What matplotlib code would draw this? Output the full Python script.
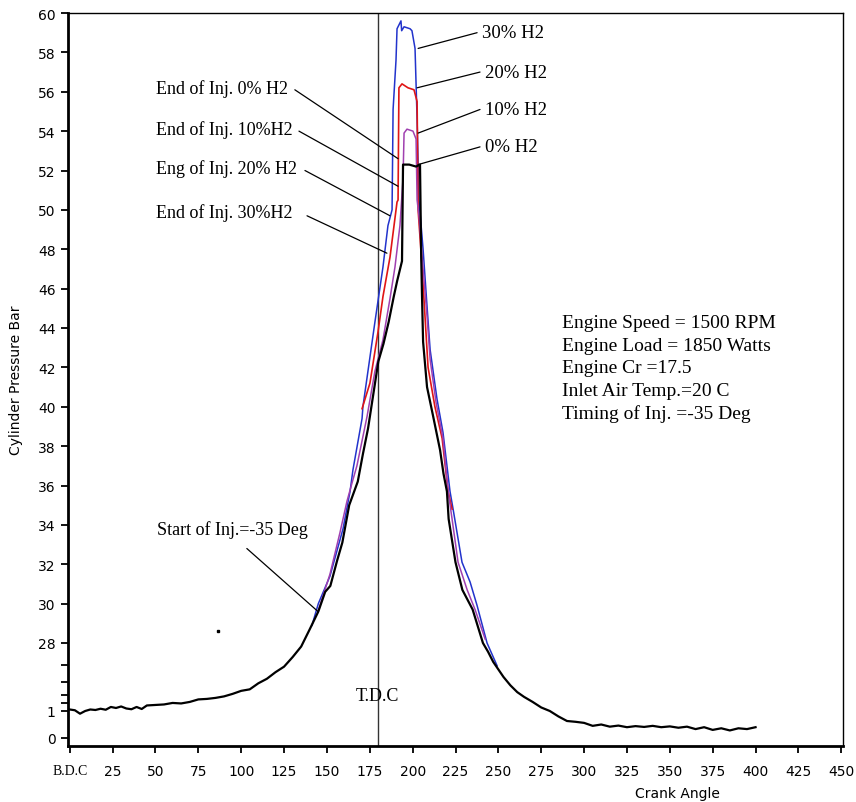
import numpy as np
import matplotlib
matplotlib.use("Agg")
from matplotlib import pyplot as plt

# crank angle (deg) / cylinder pressure (bar)
black_x = [0, 3, 6, 9, 12, 15, 18, 21, 24, 27, 30, 33, 36, 39, 42, 45, 50, 55, 60, 65,
           70, 75, 80, 85, 90, 95, 100, 105, 110, 115, 120, 125, 130, 135, 140, 145,
           149, 152, 156, 159, 163, 168, 171, 174, 177, 180, 183, 186, 189, 191, 193.8,
           194.4, 198, 202, 204.3, 205, 205.5, 206.1, 208.4, 212, 216, 218, 220, 221,
           225, 229, 235, 241, 244, 247, 250, 253, 257, 261, 265, 270, 275, 280, 285,
           290, 295, 300, 305, 310, 315, 320, 325, 330, 335, 340, 345, 350, 355, 360,
           365, 370, 375, 380, 385, 390, 395, 400]
black_y = [1.6, 1.3, 0.9, 1.0, 1.6, 1.4, 1.9, 1.5, 2.6, 2.2, 2.8, 2.0, 1.7, 2.6, 1.8, 3.2,
           3.4, 3.6, 4.2, 4.0, 4.6, 5.6, 5.8, 6.2, 6.8, 7.8, 9.0, 9.6, 12.0, 13.8, 16.4,
           18.6, 22.4, 26.6, 28.7, 29.6, 30.6, 30.9, 32.2, 33.1, 35.0, 36.2, 37.6, 38.9,
           40.6, 42.3, 43.2, 44.3, 45.6, 46.4, 47.4, 52.3, 52.3, 52.2, 52.3, 47.6, 45.5,
           43.3, 41.0, 39.5, 37.8, 36.6, 35.7, 34.3, 32.1, 30.7, 29.7, 28.0, 24.5, 20.5,
           17.5, 14.5, 11.2, 8.5, 6.6, 4.6, 2.4, 1.0, 0.8, 0.63, 0.6, 0.56, 0.45, 0.5,
           0.42, 0.46, 0.4, 0.44, 0.41, 0.45, 0.4, 0.43, 0.38, 0.42, 0.33, 0.4, 0.3,
           0.36, 0.28, 0.36, 0.33, 0.4]

blue_x = [141.3, 145, 151.8, 159.4, 163.5, 165.2, 170.5, 171, 178, 182.7, 185.6, 188,
          188.6, 190.3, 190.9, 193.2, 193.6, 195, 198.5, 199.6, 201.4, 202.6, 203.7,
          206.1, 208.4, 210.2, 214.2, 217.7, 221.8, 223.6, 228.8, 233.5, 237.6, 243.4,
          249.3]
blue_y = [28.9, 30.0, 31.4, 33.8, 35.7, 36.8, 39.4, 40.0, 44.3, 47.1, 49.2, 50.0, 55.1,
          57.6, 59.2, 59.6, 59.1, 59.3, 59.2, 59.1, 58.2, 54.6, 50.5, 48.0, 45.1, 42.9,
          40.4, 38.7, 35.7, 34.8, 32.1, 31.1, 29.9, 28.0, 18.9]

red_x = [170.5, 175.1, 179.8, 182.7, 186.8, 190.9, 191.5, 192, 193.8, 197.3, 200.8,
         202.6, 203.2, 205.5, 207.2, 209, 213, 217.2, 220.7, 223]
red_y = [39.9, 41.2, 43.8, 45.6, 47.6, 50.4, 50.5, 56.2, 56.4, 56.2, 56.1, 55.5, 50.0,
         47.1, 44.6, 42.0, 40.0, 38.4, 35.7, 34.8]

purple_x = [144.8, 151.8, 157.6, 161.7, 165.2, 167.5, 173.4, 178, 182.7, 186.8, 189.7,
            192.6, 194.4, 195, 196.7, 200.2, 202, 202.6, 203.7, 206.1, 208.4, 210.2,
            213.7, 217.7, 220.7, 223, 226.5, 231.8, 236.4, 242.3]
purple_y = [29.6, 31.5, 33.6, 35.2, 36.3, 37.0, 39.5, 41.8, 43.4, 45.5, 47.1, 49.2, 51.6,
            53.9, 54.1, 54.0, 53.6, 50.5, 49.7, 47.0, 44.6, 42.4, 40.2, 38.4, 35.7, 34.3,
            32.1, 30.7, 29.7, 28.2]

# the lone speck left in the plot area
stray_x = [86.4]
stray_y = [28.6]

x_ticks = list(range(0, 451, 25))
x_labels = ['B.D.C'] + [str(v) for v in x_ticks[1:]]
y_major = [0, 1] + list(range(28, 61, 2))
y_minor = [4.2, 7.4, 12.5, 19.3]

info = ['Engine Speed = 1500 RPM', 'Engine Load = 1850 Watts', 'Engine Cr =17.5',
        'Inlet Air Temp.=20 C', 'Timing of Inj. =-35 Deg']

# broken pressure axis: 0-1 stretched, 1-28 squeezed, 28-60 linear
KD = [-10, -0.3, 0, 1, 28, 60, 100]
KP = [-263, 0, 8, 35, 103, 733, 1521]
def fwd(v):
    return np.interp(v, KD, KP)
def inv(p):
    return np.interp(p, KP, KD)

serif = 'Liberation Serif'

fig = plt.figure(figsize=(8.56, 8.03), dpi=100)
ax = fig.add_axes([68/856, 56/803, 775/856, 733/803])
ax.set_yscale('function', functions=(fwd, inv))
ax.set_xlim(-1, 451)
ax.set_ylim(-0.3, 60)

ax.axvline(180, color='#333333', lw=1.0)
ax.plot(blue_x, blue_y, color='#2233cc', lw=1.1)
ax.plot(red_x, red_y, color='#e01515', lw=1.2)
ax.plot(purple_x, purple_y, color='#a040b0', lw=1.1)
ax.plot(black_x, black_y, color='black', lw=1.6)
ax.plot(stray_x, stray_y, 's', color='black', ms=1.5)

ax.set_xticks(x_ticks)
ax.set_xticklabels(x_labels)
ax.get_xticklabels()[0].set_fontfamily(serif)
ax.set_yticks(y_major + y_minor)
ax.set_yticklabels([str(v) for v in y_major] + [''] * len(y_minor))
ax.tick_params(axis='both', labelsize=10, length=5, width=1.3, direction='out')
ax.tick_params(axis='x', pad=8)
ax.tick_params(axis='y', pad=4)
ax.minorticks_off()

for s in ['left', 'bottom']:
    ax.spines[s].set_linewidth(2)
for s in ['top', 'right']:
    ax.spines[s].set_linewidth(1)

ax.set_xlabel('Crank Angle', fontsize=10)
ax.xaxis.set_label_coords(0.786, -0.055)
ax.set_ylabel('Cylinder Pressure Bar', fontsize=10)
ax.yaxis.set_label_coords(-0.058, 0.5)

line = dict(arrowstyle='-', color='black', lw=0.9, shrinkA=0, shrinkB=0)
right_labels = [('30% H2', 203.2, 58.2, 237.6, 59.0),
                ('20% H2', 202.6, 56.2, 239.3, 57.0),
                ('10% H2', 203.2, 53.9, 239.3, 55.1),
                ('0% H2', 203.2, 52.3, 239.3, 53.2)]
for txt, x0, y0, x1, y1 in right_labels:
    ax.annotate('', xy=(x0, y0), xytext=(x1, y1), arrowprops=line)
    ax.text(x1 + 3, y1, txt, family=serif, fontsize=13.5, va='center', ha='left')

left_labels = [('End of Inj. 0% H2', 56.2, 131.3, 56.1, 191.5, 52.6),
               ('End of Inj. 10%H2', 54.1, 133.7, 54.0, 191.5, 51.2),
               ('Eng of Inj. 20% H2', 52.1, 137.2, 52.0, 186.8, 49.7),
               ('End of Inj. 30%H2', 49.9, 138.4, 49.7, 185.0, 47.8)]
for txt, ty, x1, y1, x0, y0 in left_labels:
    ax.annotate('', xy=(x0, y0), xytext=(x1, y1), arrowprops=line)
    ax.text(50.2, ty, txt, family=serif, fontsize=13, va='center', ha='left')

ax.annotate('', xy=(144.8, 29.6), xytext=(103.3, 32.8), arrowprops=line)
ax.text(50.8, 33.8, 'Start of Inj.=-35 Deg', family=serif, fontsize=13, va='center', ha='left')
ax.text(179.2, 7.0, 'T.D.C', family=serif, fontsize=13, va='center', ha='center')

ax.text(287.2, 44.7, '\n'.join(info), family=serif, fontsize=14, va='top', ha='left',
        linespacing=1.42)

fig.savefig('out.png', dpi=100)
